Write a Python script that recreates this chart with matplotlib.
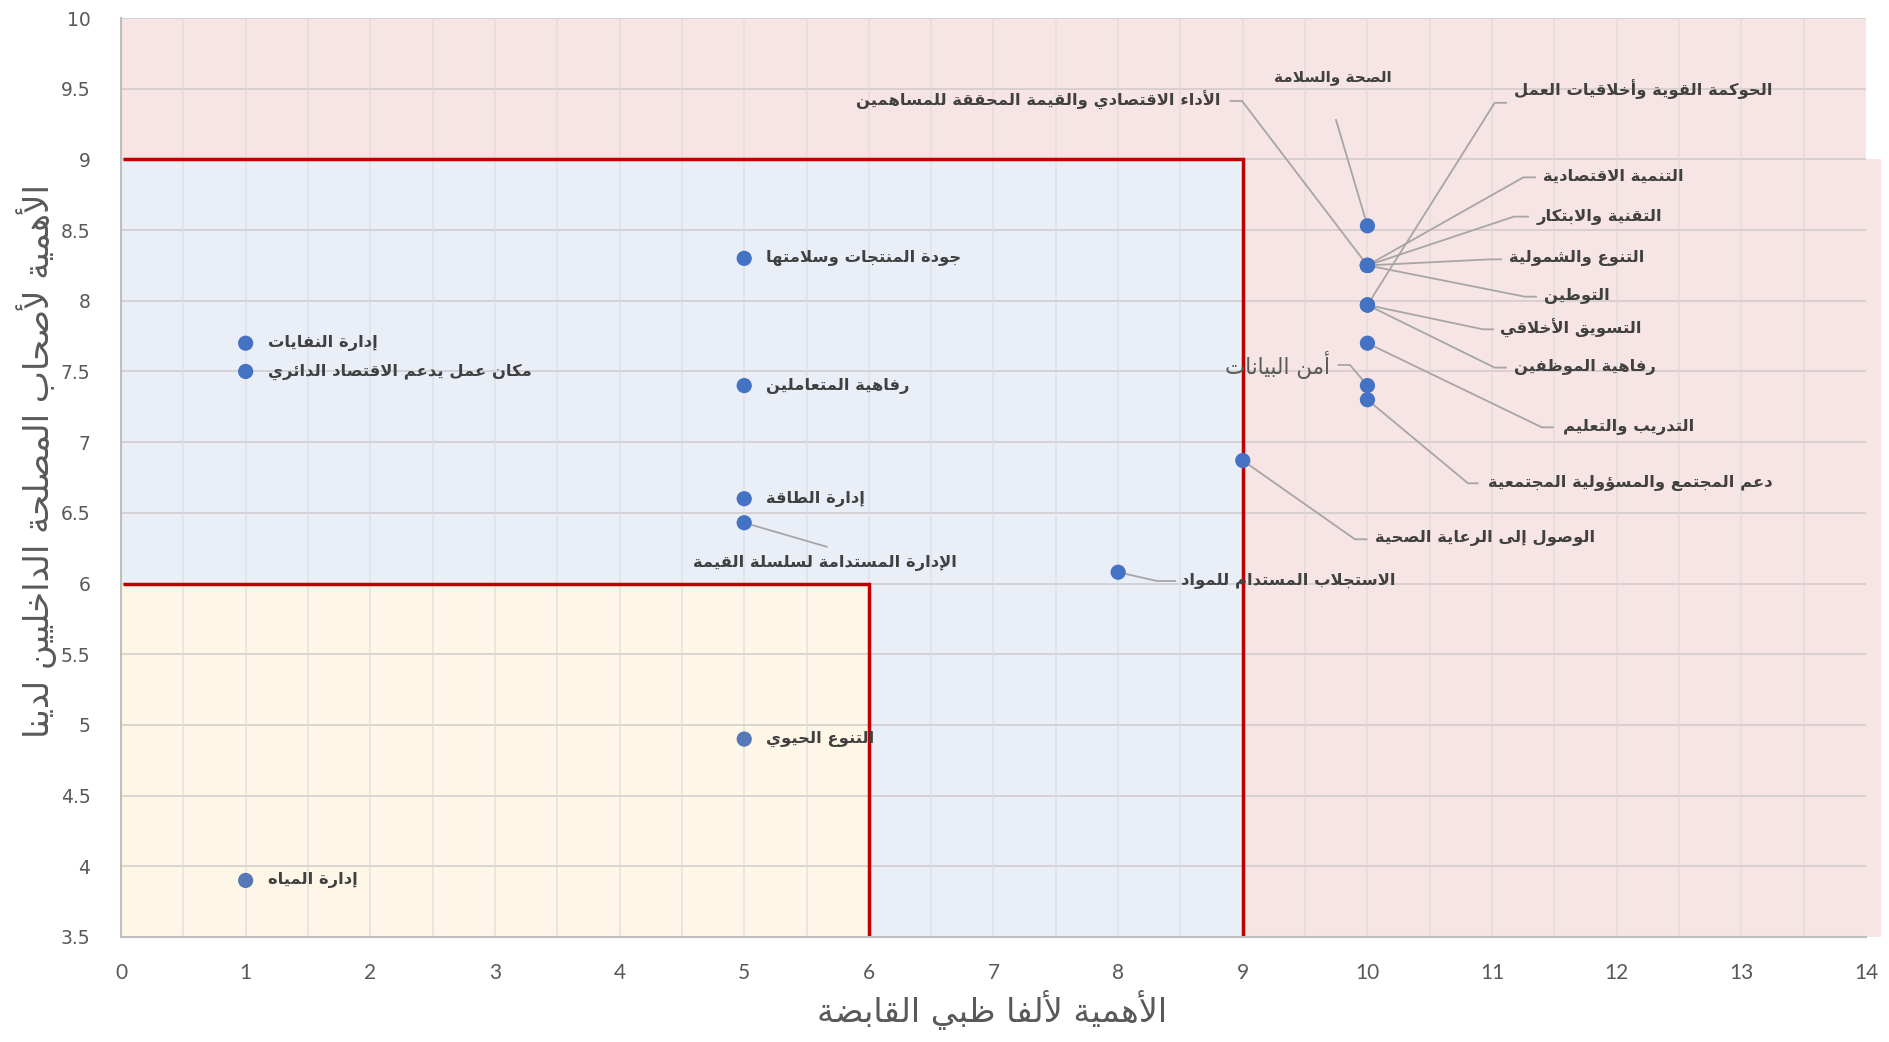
import matplotlib
matplotlib.use("Agg")
import matplotlib.pyplot as plt
from matplotlib.patches import Rectangle

# ---------------- Arabic shaping (presentation forms + visual order) ----------------
DUAL = {'ئ': 0xFE89, 'ب': 0xFE8F, 'ت': 0xFE95, 'ث': 0xFE99, 'ج': 0xFE9D, 'ح': 0xFEA1,
        'خ': 0xFEA5, 'س': 0xFEB1, 'ش': 0xFEB5, 'ص': 0xFEB9, 'ض': 0xFEBD, 'ط': 0xFEC1,
        'ظ': 0xFEC5, 'ع': 0xFEC9, 'غ': 0xFECD, 'ف': 0xFED1, 'ق': 0xFED5, 'ك': 0xFED9,
        'ل': 0xFEDD, 'م': 0xFEE1, 'ن': 0xFEE5, 'ه': 0xFEE9, 'ي': 0xFEF1}
RIGHT = {'آ': 0xFE81, 'أ': 0xFE83, 'ؤ': 0xFE85, 'إ': 0xFE87, 'ا': 0xFE8D, 'ة': 0xFE93,
         'د': 0xFEA9, 'ذ': 0xFEAB, 'ر': 0xFEAD, 'ز': 0xFEAF, 'و': 0xFEED, 'ى': 0xFEEF}
LAMALEF = {'آ': 0xFEF5, 'أ': 0xFEF7, 'إ': 0xFEF9, 'ا': 0xFEFB}
NONJ = {'ء': 0xFE80}


def ar(s):
    units = []
    i = 0
    while i < len(s):
        c = s[i]
        if c == 'ل' and i + 1 < len(s) and s[i + 1] in LAMALEF:
            units.append(('R', LAMALEF[s[i + 1]]))
            i += 2
            continue
        if c in DUAL:
            units.append(('D', DUAL[c]))
        elif c in RIGHT:
            units.append(('R', RIGHT[c]))
        elif c in NONJ:
            units.append(('N', NONJ[c]))
        else:
            units.append(('X', c))
        i += 1
    out = []
    for k, (kind, b) in enumerate(units):
        if kind == 'X':
            out.append(b)
            continue
        prev_j = k > 0 and units[k - 1][0] == 'D'
        next_j = k + 1 < len(units) and units[k + 1][0] in ('D', 'R')
        if kind == 'N':
            out.append(chr(b))
        elif kind == 'R':
            out.append(chr(b + 1) if prev_j else chr(b))
        else:
            if prev_j and next_j:
                out.append(chr(b + 3))
            elif prev_j:
                out.append(chr(b + 1))
            elif next_j:
                out.append(chr(b + 2))
            else:
                out.append(chr(b))
    return ''.join(reversed(out))


# ---------------- Data ----------------
topics = [
    'إدارة النفايات',
    'مكان عمل يدعم الاقتصاد الدائري',
    'إدارة المياه',
    'جودة المنتجات وسلامتها',
    'رفاهية المتعاملين',
    'إدارة الطاقة',
    'الإدارة المستدامة لسلسلة القيمة',
    'التنوع الحيوي',
    'الاستجلاب المستدام للمواد',
    'الوصول إلى الرعاية الصحية',
    'الصحة والسلامة',
    'الأداء الاقتصادي والقيمة المحققة للمساهمين',
    'التنمية الاقتصادية',
    'التقنية والابتكار',
    'التنوع والشمولية',
    'التوطين',
    'الحوكمة القوية وأخلاقيات العمل',
    'التسويق الأخلاقي',
    'رفاهية الموظفين',
    'التدريب والتعليم',
    'أمن البيانات',
    'دعم المجتمع والمسؤولية المجتمعية',
]
holding_importance = [1, 1, 1, 5, 5, 5, 5, 5, 8, 9, 10, 10, 10, 10, 10, 10, 10, 10, 10, 10, 10, 10]
stakeholder_importance = [7.70, 7.50, 3.90, 8.30, 7.40, 6.60, 6.43, 4.90, 6.08, 6.87, 8.53,
                          8.25, 8.25, 8.25, 8.25, 8.25, 7.97, 7.97, 7.97, 7.70, 7.40, 7.30]

x_ticks = list(range(0, 15))
y_ticks = [3.5, 4, 4.5, 5, 5.5, 6, 6.5, 7, 7.5, 8, 8.5, 9, 9.5, 10]
x_title = 'الأهمية لألفا ظبي القابضة'
y_title = 'الأهمية لأصحاب المصلحة الداخليين لدينا'

# ---------------- Layout (label placement, not data) ----------------
simple_labels = {0, 1, 2, 3, 4, 5, 7}
# text pos (x, y), ha, knee point (x, y), horizontal end x
leader_layout = {
    6: ((5.648, 6.145), 'center', (5.662, 6.26), None),
    8: ((8.505, 6.025), 'left', (8.312, 6.018), 8.457),
    9: ((10.061, 6.32), 'left', (9.90, 6.313), 9.993),
    10: ((9.724, 9.58), 'center', (9.748, 9.279), None),
    11: ((8.825, 9.42), 'right', (8.994, 9.413), 8.902),
    12: ((11.409, 8.878), 'left', (11.251, 8.873), 11.345),
    13: ((11.36, 8.595), 'left', (11.175, 8.595), 11.289),
    14: ((11.137, 8.30), 'left', (10.98, 8.293), 11.073),
    15: ((11.417, 8.034), 'left', (11.264, 8.029), 11.353),
    16: ((11.176, 9.496), 'left', (11.021, 9.40), 11.112),
    17: ((11.064, 7.805), 'left', (10.928, 7.798), 11.008),
    18: ((11.176, 7.534), 'left', (11.021, 7.527), 11.112),
    19: ((11.57, 7.109), 'left', (11.399, 7.105), 11.488),
    20: ((9.701, 7.546), 'right', (9.86, 7.546), 9.768),
    21: ((10.968, 6.709), 'left', (10.807, 6.709), 10.884),
}

AR_FONT = ['DejaVu Sans']
LABEL_COLOR = '#404040'
GRAY = '#595959'
DOT = '#4472C4'
DOT_ALT = '#5677B8'
LABEL_SIZE = 11.8

fig = plt.figure(figsize=(18.9, 10.42), dpi=100)
ax = fig.add_axes([121 / 1890, 1 - 937 / 1042, 1745 / 1890, 919 / 1042])
ax.set_xlim(0, 14)
ax.set_ylim(3.5, 10)

# background zones
pink = '#F7E4E4'
blue = '#E9EEF7'
yellow = '#FEF6E6'
ax.add_patch(Rectangle((0, 9), 14, 1, facecolor=pink, edgecolor='none', zorder=0.1))
ax.add_patch(Rectangle((9, 3.5), 5.12, 5.5, facecolor=pink, edgecolor='none', zorder=0.1, clip_on=False))
ax.add_patch(Rectangle((0, 3.5), 9, 5.5, facecolor=blue, edgecolor='none', zorder=0.1))
ax.add_patch(Rectangle((0, 3.5), 6, 2.5, facecolor=yellow, edgecolor='none', zorder=0.15))

# grid
for yv in y_ticks:
    ax.axhline(yv, color='#C8C3C3', lw=1.3, alpha=0.7, zorder=0.5)
xv = 0.5
while xv < 14:
    ax.axvline(xv, color='#DADADA', lw=1.1, alpha=0.7, zorder=0.5)
    xv += 0.5

# red boundary lines
red = '#C00000'
ax.plot([0.02, 9, 9], [9, 9, 3.5], color=red, lw=2.5, zorder=2, solid_capstyle='butt', solid_joinstyle='miter')
ax.plot([0.02, 6, 6], [6, 6, 3.5], color=red, lw=2.5, zorder=2, solid_capstyle='butt', solid_joinstyle='miter')

# spines / ticks
for s in ['top', 'right']:
    ax.spines[s].set_visible(False)
for s in ['left', 'bottom']:
    ax.spines[s].set_color('#BFBFBF')
    ax.spines[s].set_linewidth(1.5)
    ax.spines[s].set_zorder(3)
ax.set_xticks(x_ticks)
ax.set_yticks(y_ticks)
ax.set_xticklabels([str(v) for v in x_ticks], fontfamily='Lato', fontsize=15, color=GRAY)
ax.set_yticklabels([('%g' % v) for v in y_ticks], fontfamily='DejaVu Sans', fontsize=13.5, color=GRAY)
ax.tick_params(axis='both', length=0)
ax.tick_params(axis='x', pad=19)
ax.tick_params(axis='y', pad=22)

# points
dot_colors = [DOT_ALT if t in ('إدارة المياه', 'التنوع الحيوي') else DOT for t in topics]
ax.scatter(holding_importance, stakeholder_importance, s=120, c=dot_colors, zorder=5, edgecolors='none')

# labels
for i, t in enumerate(topics):
    px, py = holding_importance[i], stakeholder_importance[i]
    if i in simple_labels:
        ax.annotate(ar(t), (px, py), xytext=(16, 0), textcoords='offset points',
                    ha='left', va='center', fontsize=LABEL_SIZE, fontweight='bold',
                    color=LABEL_COLOR, family=AR_FONT, zorder=6)
        continue
    (tx, ty), ha, (kx, ky), hx = leader_layout[i]
    xs = [px, kx] + ([hx] if hx is not None else [])
    ys = [py, ky] + ([ky] if hx is not None else [])
    ax.plot(xs, ys, color='#A6A6A6', lw=1.3, zorder=4)
    if t == 'أمن البيانات':
        ax.text(tx, ty, ar(t), ha=ha, va='center', fontsize=15.5, fontweight='normal',
                color=GRAY, family=AR_FONT, zorder=6)
    elif t == 'الصحة والسلامة':
        ax.text(tx, ty, ar(t), ha=ha, va='center', fontsize=11, fontweight='bold',
                color=LABEL_COLOR, family=AR_FONT, zorder=6)
    else:
        ax.text(tx, ty, ar(t), ha=ha, va='center', fontsize=LABEL_SIZE, fontweight='bold',
                color=LABEL_COLOR, family=AR_FONT, zorder=6)

# axis titles
fig.text(992 / 1890, 1 - 1010 / 1042, ar(x_title), ha='center', va='center',
         fontsize=24, color=GRAY, family=AR_FONT)
fig.text(37 / 1890, 1 - 461 / 1042, ar(y_title), ha='center', va='center', rotation=90,
         fontsize=24.5, color=GRAY, family=AR_FONT)

fig.savefig('out.png', dpi=100)
